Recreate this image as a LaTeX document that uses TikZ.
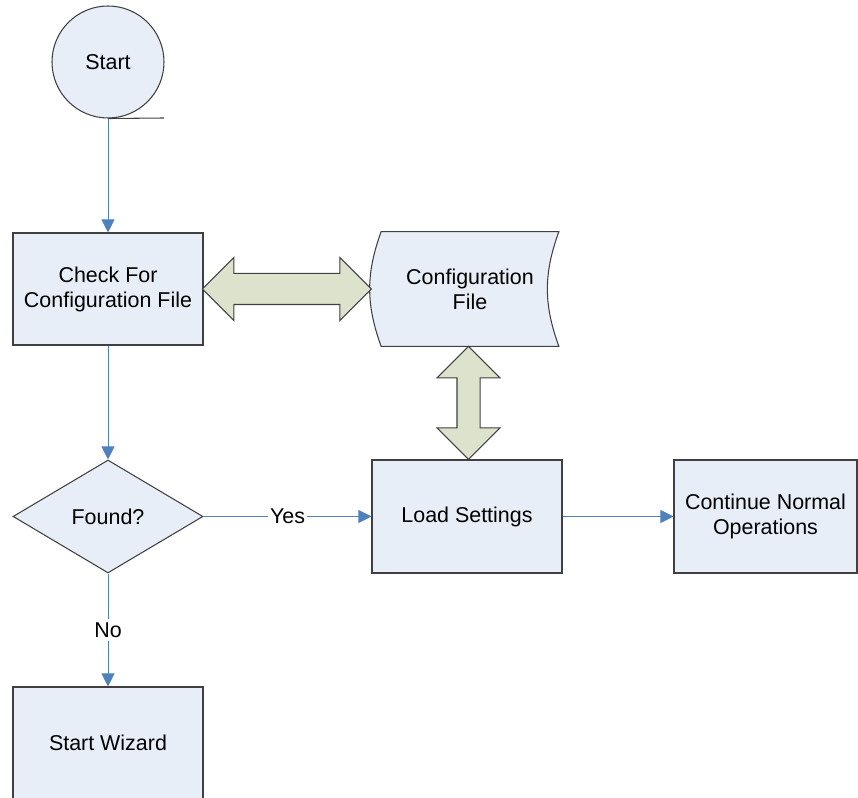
\documentclass[tikz,border=0pt]{standalone}
\usepackage{fontspec}
\setmainfont{Liberation Sans}
\usetikzlibrary{shapes.geometric, shapes.arrows, arrows.meta, calc}

\definecolor{boxfill}{RGB}{232,238,247}
\definecolor{boxline}{RGB}{64,64,64}
\definecolor{flowblue}{RGB}{79,129,189}
\definecolor{linkfill}{RGB}{221,226,204}

\begin{document}
\begin{tikzpicture}[
		font=\fontsize{12.2}{14.2}\selectfont,
		every node/.style={align=center, inner sep=0pt},
		process/.style={rectangle, draw=boxline, fill=boxfill, line width=0.6pt,
			minimum width=3.8cm, minimum height=2.24cm},
		decision/.style={diamond, draw=boxline, fill=boxfill, line width=0.6pt,
			minimum width=3.8cm, minimum height=2.26cm},
		flow/.style={draw=flowblue, line width=0.5pt, -{Triangle[length=0.26cm, width=0.26cm]}},
		blockarrow/.style={double arrow, draw=boxline, fill=linkfill, line width=0.6pt,
			double arrow tip angle=90, inner xsep=0pt, text height=0pt, text depth=0pt}
	]
  \useasboundingbox (0cm, 0cm) rectangle (17.16cm, 15.96cm);

  \node (start) [circle, draw=boxline, fill=boxfill, line width=0.6pt, minimum size=2.24cm] at (2.16cm, 14.72cm) {Start};
  \coordinate (start_tail) at (3.28cm, 13.6cm);
  \draw [boxline, line width=0.6pt] (start.south) -- (start_tail);

  \node (check) [process] at (2.16cm, 10.18cm) {Check For\\Configuration File};
  \node (cfg) [minimum width=3.54cm, minimum height=2.28cm] at (9.4cm, 10.18cm) {Configuration\\File};
  \draw [draw=boxline, fill=boxfill, line width=0.6pt]
    (cfg.north west) to [bend right=20] (cfg.south west) -- (cfg.south east)
    to [bend left=20] (cfg.north east) -- cycle;
  \node at (cfg) {Configuration\\File};
  \coordinate (cfg_left) at ($(cfg.west)+(-0.22cm, 0)$);

  \node (found) [decision] at (2.16cm, 5.63cm) {Found?};
  \node (load) [process, minimum height=2.26cm] at (9.34cm, 5.63cm) {Load Settings};
  \node (cont) [process, minimum width=3.66cm, minimum height=2.26cm] at (15.31cm, 5.63cm) {Continue Normal\\Operations};
  \node (wizard) [process] at (2.16cm, 1.1cm) {Start Wizard};

  \node (check_cfg) [blockarrow, inner ysep=0.3cm, double arrow head extend=0.32cm, minimum height=3.38cm]
    at ($(check.east)!0.5!(cfg_left)$) {};
  \node (cfg_load) [blockarrow, rotate=90, inner ysep=0.22cm, double arrow head extend=0.4cm, minimum height=2.26cm]
    at ($(cfg.south)!0.5!(load.north)$) {};

  \draw [flow] (start.south) -- (check.north);
  \draw [flow] (check.south) -- (found.north);
  \draw [flow] (found.east) -- node [fill=white, inner xsep=1pt] {Yes} (load.west);
  \draw [flow] (load.east) -- (cont.west);
  \draw [flow] (found.south) -- node [fill=white, inner ysep=2pt] {No} (wizard.north);
\end{tikzpicture}
\end{document}
